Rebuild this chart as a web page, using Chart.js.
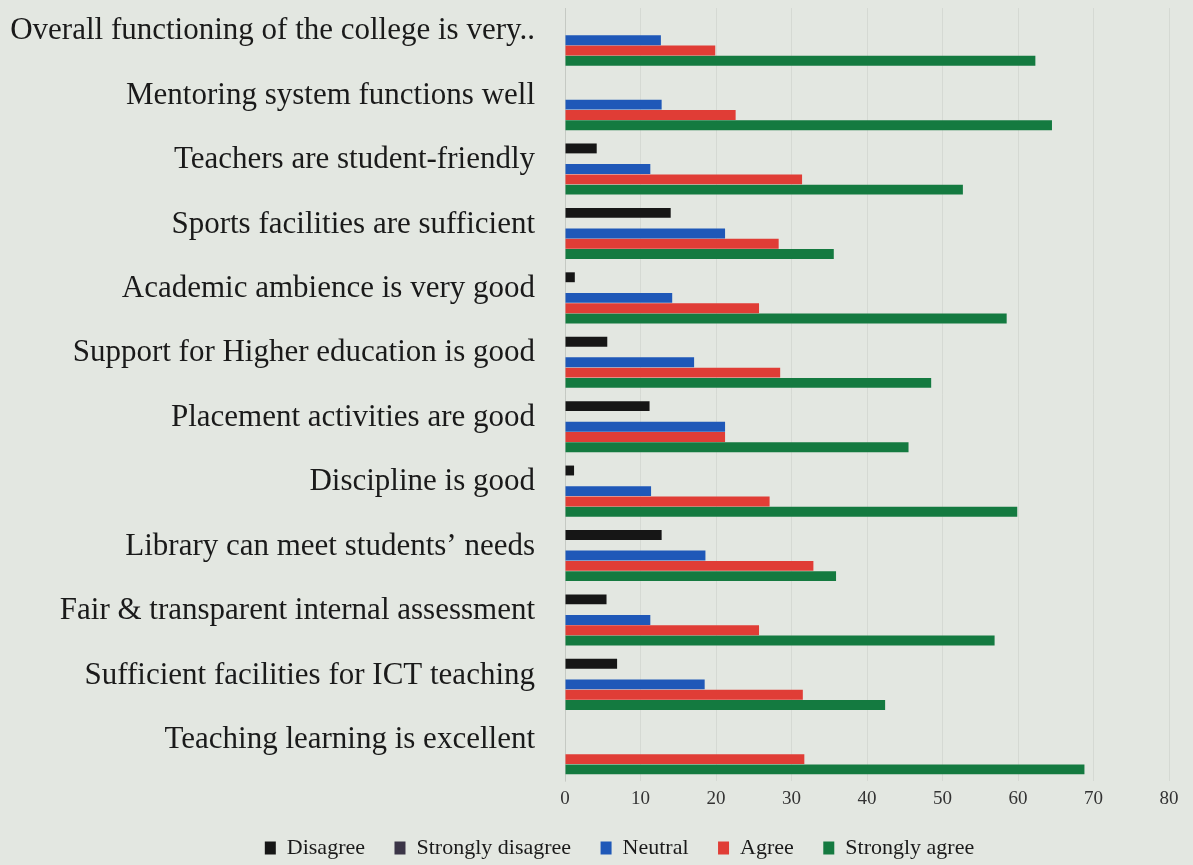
<!DOCTYPE html>
<html>
<head>
<meta charset="utf-8">
<script src="https://cdn.jsdelivr.net/npm/chart.js@4/dist/chart.umd.min.js"></script>
<style>
  html, body { margin: 0; padding: 0; background: #e3e7e1; }
  #wrap { width: 1193px; height: 865px; position: relative; }
</style>
</head>
<body>
<div id="wrap"><canvas id="c" width="1193" height="865"></canvas></div>
<script>
const categories = [
  "Overall functioning of the college is very..",
  "Mentoring system functions well",
  "Teachers are student-friendly",
  "Sports facilities are sufficient",
  "Academic ambience is very good",
  "Support for Higher education is good",
  "Placement activities are good",
  "Discipline is good",
  "Library can meet students\u2019 needs",
  "Fair & transparent internal assessment",
  "Sufficient facilities for ICT teaching",
  "Teaching learning is excellent"
];
const seriesNames = ["Disagree", "Strongly disagree", "Neutral", "Agree", "Strongly agree"];
const disagree         = [0,    0,    4.2,  14.0, 1.3,  5.6,  11.2, 1.2,  12.8, 5.5,  6.9,  0];
const stronglyDisagree = [0,    0,    0,    0,    0,    0,    0,    0,    0,    0,    0,    0];
const neutral          = [12.7, 12.8, 11.3, 21.2, 14.2, 17.1, 21.2, 11.4, 18.6, 11.3, 18.5, 0];
const agree            = [19.9, 22.6, 31.4, 28.3, 25.7, 28.5, 21.2, 27.1, 32.9, 25.7, 31.5, 31.7];
const stronglyAgree    = [62.3, 64.5, 52.7, 35.6, 58.5, 48.5, 45.5, 59.9, 35.9, 56.9, 42.4, 68.8];
const xTicks = [0, 10, 20, 30, 40, 50, 60, 70, 80];

const colors = ["#161616", "#3b3547", "#1f58b8", "#e03d36", "#147a40"];
const values = [disagree, stronglyDisagree, neutral, agree, stronglyAgree];

const PAD_L = 4, PAD_R = 24;
const serif = "'Liberation Serif', 'DejaVu Serif', serif";

const shiftLegend = {
  id: 'shiftLegend',
  afterLayout(chart) {
    const lg = chart.legend;
    if (lg) { lg.left += 33; lg.right += 33; lg.top += 4; lg.bottom += 4; }
  }
};

new Chart(document.getElementById('c'), {
  type: 'bar',
  data: {
    labels: categories,
    datasets: seriesNames.map((n, i) => ({
      label: n,
      data: values[i],
      backgroundColor: colors[i],
      borderWidth: 0,
      categoryPercentage: 0.8,
      barPercentage: 0.96
    }))
  },
  options: {
    indexAxis: 'y',
    responsive: false,
    animation: false,
    layout: { padding: { left: PAD_L, right: PAD_R, top: 8, bottom: 0 } },
    scales: {
      x: {
        min: xTicks[0], max: xTicks[xTicks.length - 1],
        afterBuildTicks: s => { s.ticks = xTicks.map(v => ({ value: v })); },
        afterFit: s => { s.height = 50; },
        grid: { color: 'rgba(0,0,0,0.06)', drawTicks: false },
        border: { display: false },
        ticks: { color: '#333', padding: 7, font: { family: serif, size: 19 } }
      },
      y: {
        afterFit: s => { s.width = 565 - PAD_L; s.paddingTop = 0; s.paddingBottom = 0; },
        grid: { display: false, drawTicks: false },
        border: { color: 'rgba(0,0,0,0.08)' },
        ticks: { color: '#1a1a1a', padding: 30, labelOffset: -9, autoSkip: false,
                 font: { family: serif, size: 31 } }
      }
    },
    plugins: {
      tooltip: { enabled: false },
      legend: {
        position: 'bottom',
        labels: {
          padding: 2,
          boxWidth: 11,
          boxHeight: 13,
          color: '#1a1a1a',
          font: { family: serif, size: 22 },
          generateLabels: chart => {
            const base = Chart.defaults.plugins.legend.labels.generateLabels(chart);
            return base.map((it, i) => Object.assign(it, {
              text: it.text + (i < base.length - 1 ? '     ' : ''),
              lineWidth: 0
            }));
          }
        }
      }
    }
  },
  plugins: [shiftLegend]
});
</script>
</body>
</html>
